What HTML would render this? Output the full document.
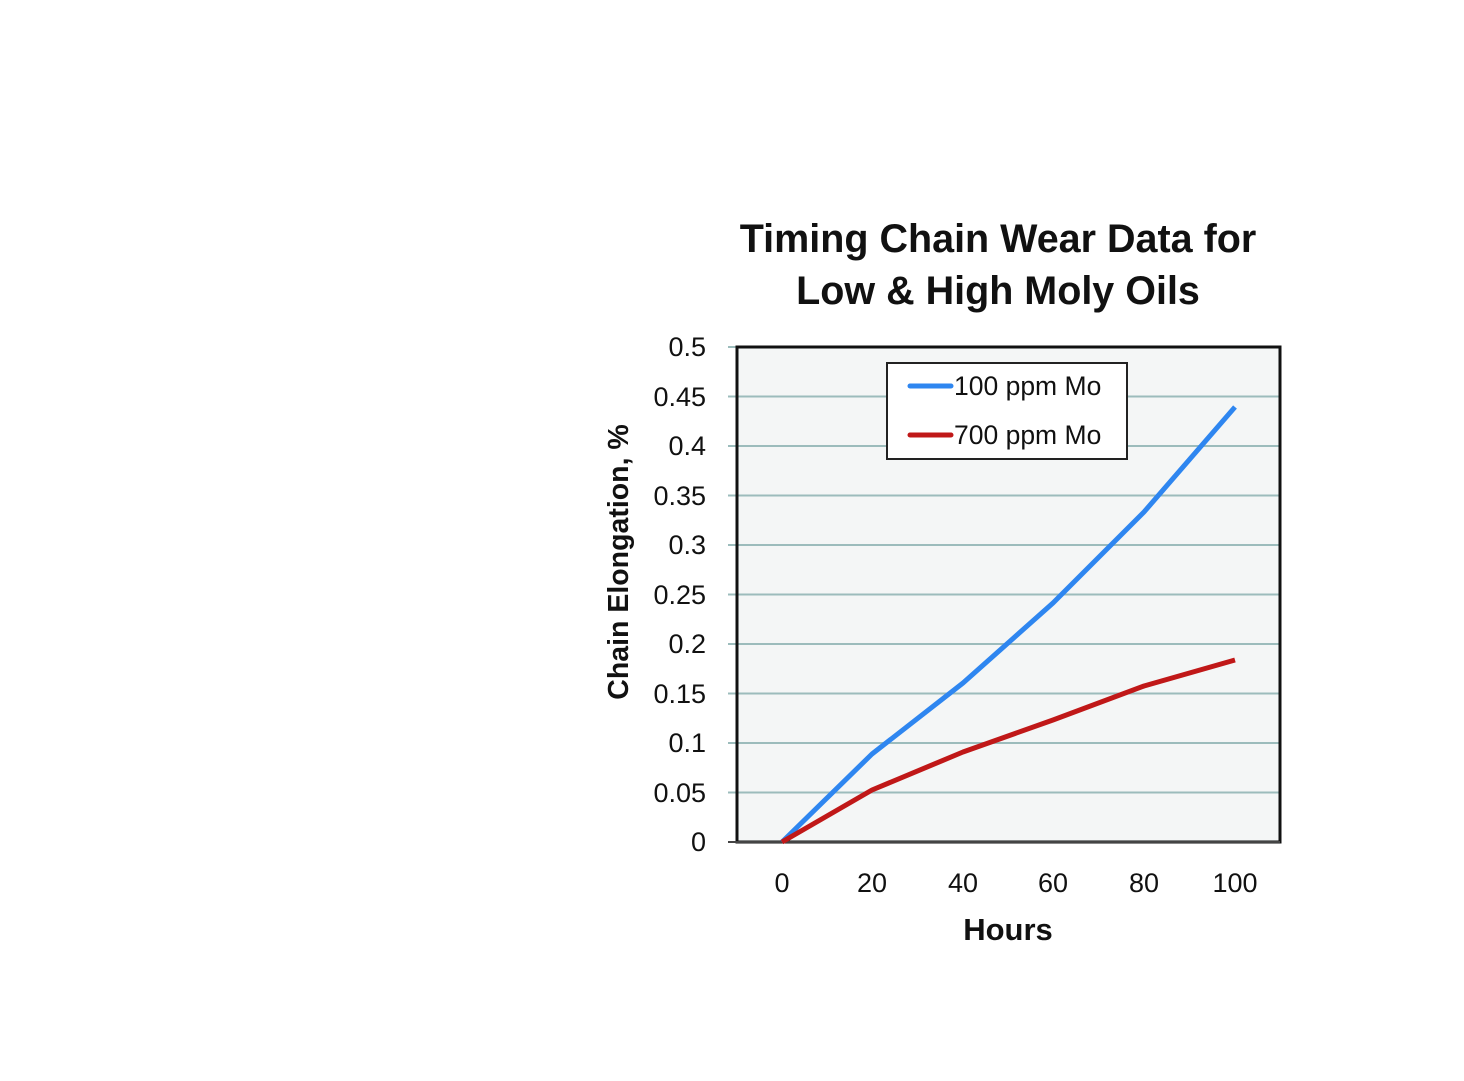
<!DOCTYPE html>
<html><head><meta charset="utf-8"><style>body{margin:0;background:#fff}svg{display:block}</style></head>
<body>
<svg width="1464" height="1081" viewBox="0 0 1464 1081" xmlns="http://www.w3.org/2000/svg" font-family="Liberation Sans, sans-serif">
<rect width="1464" height="1081" fill="#fff"/>
<text x="998" y="252" font-size="39.5" font-weight="bold" text-anchor="middle" fill="#111">Timing Chain Wear Data for</text>
<text x="998" y="304" font-size="39.5" font-weight="bold" text-anchor="middle" fill="#111">Low &amp; High Moly Oils</text>
<rect x="737" y="347" width="543" height="495" fill="#f4f6f6"/>
<g stroke="#9cbcbc" stroke-width="2">
<line x1="728" x2="1279" y1="396.5" y2="396.5"/><line x1="728" x2="1279" y1="446" y2="446"/>
<line x1="728" x2="1279" y1="495.5" y2="495.5"/><line x1="728" x2="1279" y1="545" y2="545"/>
<line x1="728" x2="1279" y1="594.5" y2="594.5"/><line x1="728" x2="1279" y1="644" y2="644"/>
<line x1="728" x2="1279" y1="693.5" y2="693.5"/><line x1="728" x2="1279" y1="743" y2="743"/>
<line x1="728" x2="1279" y1="792.5" y2="792.5"/><line x1="728" x2="737" y1="347" y2="347"/>
</g>
<rect x="737" y="347" width="543" height="495" fill="none" stroke="#111" stroke-width="3"/>
<line x1="728" x2="1280" y1="842" y2="842" stroke="#444" stroke-width="2"/>
<g font-size="27" text-anchor="end" fill="#111">
<text x="706" y="356">0.5</text><text x="706" y="406">0.45</text><text x="706" y="455">0.4</text>
<text x="706" y="505">0.35</text><text x="706" y="554">0.3</text><text x="706" y="604">0.25</text>
<text x="706" y="653">0.2</text><text x="706" y="703">0.15</text><text x="706" y="752">0.1</text>
<text x="706" y="802">0.05</text><text x="706" y="851">0</text>
</g>
<g font-size="27" text-anchor="middle" fill="#111">
<text x="782" y="892">0</text><text x="872" y="892">20</text><text x="963" y="892">40</text>
<text x="1053" y="892">60</text><text x="1144" y="892">80</text><text x="1235" y="892">100</text>
</g>
<text x="1008" y="940" font-size="31" font-weight="bold" text-anchor="middle" fill="#111">Hours</text>
<text transform="translate(628,562) rotate(-90)" font-size="28.5" font-weight="bold" text-anchor="middle" fill="#111">Chain Elongation, %</text>
<polyline points="782,842 872,754 963,683 1053,603 1144,512 1235,407" fill="none" stroke="#2e86f0" stroke-width="5" stroke-linejoin="round"/>
<polyline points="782,842 872,790 963,752 1053,720 1144,686 1235,660" fill="none" stroke="#c01818" stroke-width="5" stroke-linejoin="round"/>
<rect x="887" y="363" width="240" height="96" fill="#fff" stroke="#222" stroke-width="2"/>
<line x1="910" x2="951" y1="386" y2="386" stroke="#2e86f0" stroke-width="5" stroke-linecap="round"/>
<line x1="910" x2="951" y1="435" y2="435" stroke="#c01818" stroke-width="5" stroke-linecap="round"/>
<text x="954" y="395" font-size="26.5" fill="#111">100 ppm Mo</text>
<text x="954" y="444" font-size="26.5" fill="#111">700 ppm Mo</text>
</svg>
</body></html>
